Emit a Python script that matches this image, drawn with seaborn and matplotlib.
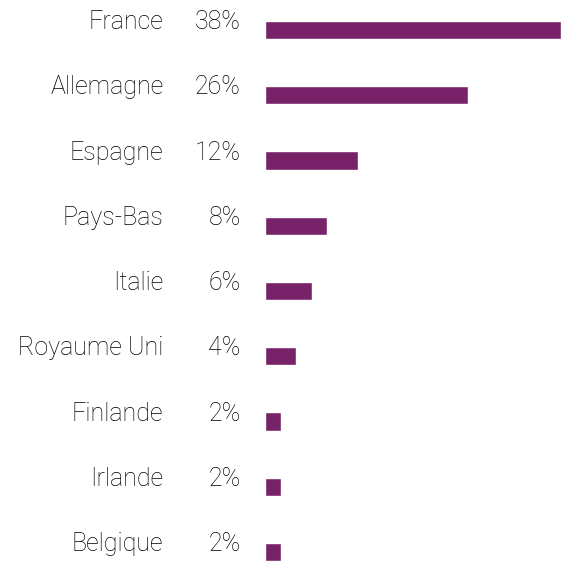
import matplotlib
matplotlib.use("Agg")
import matplotlib.pyplot as plt
import seaborn as sns

countries = ["France", "Allemagne", "Espagne", "Pays-Bas", "Italie",
             "Royaume Uni", "Finlande", "Irlande", "Belgique"]
shares = [38, 26, 12, 8, 6, 4, 2, 2, 2]
pct_labels = ["38%", "26%", "12%", "8%", "6%", "4%", "2%", "2%", "2%"]

sns.set_theme(style="white")
plt.rcParams['font.family'] = ['Roboto', 'Liberation Sans', 'DejaVu Sans']

fig = plt.figure(figsize=(5.63, 5.63), dpi=100)
ax = fig.add_axes([265 / 563, 0.002, 296 / 563, 0.9968])

sns.barplot(x=shares, y=countries, color="#782369", width=0.28,
            saturation=1, ax=ax, orient="h")
ax.set_xlim(0, 38)
ax.set_ylim(8.15, -0.45)
ax.set_xticks([])
ax.set_yticks([])
ax.set_xlabel("")
ax.set_ylabel("")
sns.despine(ax=ax, left=True, bottom=True)

trans = ax.get_yaxis_transform()
for i, (name, pct) in enumerate(zip(countries, pct_labels)):
    ax.text(-0.343, i - 0.12, name, transform=trans, ha="right", va="center",
            fontsize=18, fontweight="light", color="#000000")
    ax.text(-0.082, i - 0.12, pct, transform=trans, ha="right", va="center",
            fontsize=18, fontweight="light", color="#000000")

fig.savefig("out.png", dpi=100)
